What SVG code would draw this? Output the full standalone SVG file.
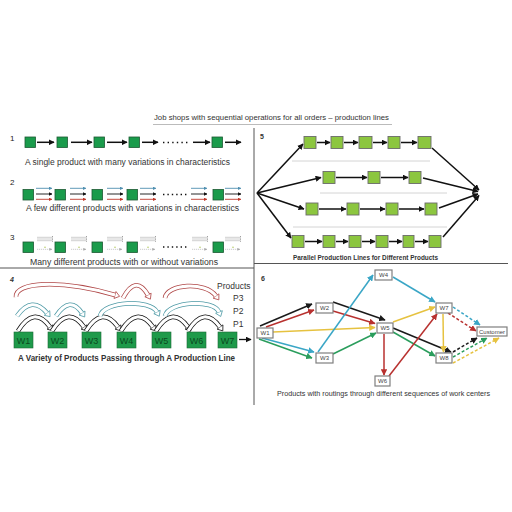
<svg xmlns="http://www.w3.org/2000/svg" xmlns:xlink="http://www.w3.org/1999/xlink" width="512" height="512" viewBox="0 0 512 512">
<style>
text{font-family:"Liberation Sans",Arial,sans-serif;fill:#333}
.cap{font-size:8.5px}
.lbl{font-size:8px;fill:#222}
.sq1{fill:#1a9b4b;stroke:#1d5a33;stroke-width:0.8}
.sq5{fill:#8cc63f;stroke:#6b6b6b;stroke-width:0.9}
.ln{stroke:#111;stroke-width:1.5;fill:none}
.wn{fill:#1e9a4a;stroke:#1d6a36;stroke-width:0.6}
.wt{font-size:9px;fill:#0b4a20;text-anchor:middle}
.box{fill:#fff;stroke:#7f7f7f;stroke-width:1.2}
.bt{font-size:6px;fill:#444;text-anchor:middle}
.div{stroke:#555;stroke-width:1;fill:none}
.sep{stroke:#d4d4d4;stroke-width:1}
.e{fill:none;stroke-width:1.5}
.d{stroke-dasharray:3 2}
.band{fill:none;stroke-width:4.6}
.inner{fill:none;stroke:#fff;stroke-width:3.1}
</style>
<defs>
<marker id="mk" viewBox="0 0 10 10" refX="9" refY="5" markerWidth="6" markerHeight="6" orient="auto" markerUnits="userSpaceOnUse"><path d="M0,0L10,5L0,10z" fill="#111"/></marker>
<marker id="mks" viewBox="0 0 10 10" refX="9" refY="5" markerWidth="3.5" markerHeight="3.5" orient="auto" markerUnits="userSpaceOnUse"><path d="M0,0L10,5L0,10z" fill="#111"/></marker>
<marker id="mkt" viewBox="0 0 10 10" refX="9" refY="5" markerWidth="3.5" markerHeight="3.5" orient="auto" markerUnits="userSpaceOnUse"><path d="M0,0L10,5L0,10z" fill="#4f8fb0"/></marker>
<marker id="mkr" viewBox="0 0 10 10" refX="9" refY="5" markerWidth="3.5" markerHeight="3.5" orient="auto" markerUnits="userSpaceOnUse"><path d="M0,0L10,5L0,10z" fill="#c0392b"/></marker>
<marker id="mkg" viewBox="0 0 10 10" refX="9" refY="5" markerWidth="3" markerHeight="3" orient="auto" markerUnits="userSpaceOnUse"><path d="M0,0L10,5L0,10z" fill="#aaa"/></marker>
<marker id="c-k" viewBox="0 0 10 10" refX="9" refY="5" markerWidth="6.5" markerHeight="6.5" orient="auto" markerUnits="userSpaceOnUse"><path d="M0,0L10,5L0,10z" fill="#1a1a1a"/></marker>
<marker id="c-r" viewBox="0 0 10 10" refX="9" refY="5" markerWidth="6.5" markerHeight="6.5" orient="auto" markerUnits="userSpaceOnUse"><path d="M0,0L10,5L0,10z" fill="#b8312f"/></marker>
<marker id="c-y" viewBox="0 0 10 10" refX="9" refY="5" markerWidth="6.5" markerHeight="6.5" orient="auto" markerUnits="userSpaceOnUse"><path d="M0,0L10,5L0,10z" fill="#e6c240"/></marker>
<marker id="c-t" viewBox="0 0 10 10" refX="9" refY="5" markerWidth="6.5" markerHeight="6.5" orient="auto" markerUnits="userSpaceOnUse"><path d="M0,0L10,5L0,10z" fill="#3aa6c6"/></marker>
<marker id="c-g" viewBox="0 0 10 10" refX="9" refY="5" markerWidth="6.5" markerHeight="6.5" orient="auto" markerUnits="userSpaceOnUse"><path d="M0,0L10,5L0,10z" fill="#2a9d5c"/></marker>
<marker id="bk" viewBox="-1 -6 9 12" refX="0" refY="0" markerWidth="9" markerHeight="12" orient="auto" markerUnits="userSpaceOnUse"><path d="M0,-3.6L4.8,0L0,3.6Z" fill="#fff" stroke="#111" stroke-width="0.75"/></marker>
<marker id="bt" viewBox="-1 -6 9 12" refX="0" refY="0" markerWidth="9" markerHeight="12" orient="auto" markerUnits="userSpaceOnUse"><path d="M0,-3.6L4.8,0L0,3.6Z" fill="#fff" stroke="#4e9aa6" stroke-width="0.75"/></marker>
<marker id="br" viewBox="-1 -6 9 12" refX="0" refY="0" markerWidth="9" markerHeight="12" orient="auto" markerUnits="userSpaceOnUse"><path d="M0,-3.6L4.8,0L0,3.6Z" fill="#fff" stroke="#b04848" stroke-width="0.75"/></marker>
<g id="tri">
<line x1="0" y1="188.3" x2="16" y2="188.3" stroke="#4f8fb0" stroke-width="0.9" marker-end="url(#mkt)"/>
<line x1="0" y1="194" x2="16" y2="194" stroke="#111" stroke-width="0.9" marker-end="url(#mks)"/>
<line x1="0" y1="199.3" x2="16" y2="199.3" stroke="#c0392b" stroke-width="0.9" marker-end="url(#mkr)"/>
</g>
<g id="gry">
<line x1="0" y1="237.3" x2="15" y2="237.3" stroke="#bbb" stroke-width="0.7"/>
<line x1="0" y1="239" x2="15" y2="239" stroke="#bbb" stroke-width="0.7"/>
<line x1="0" y1="240.7" x2="15" y2="240.7" stroke="#bbb" stroke-width="0.7"/>
<line x1="15.5" y1="236" x2="15.5" y2="242" stroke="#888" stroke-width="0.8" stroke-dasharray="1 0.6"/>
<line x1="0" y1="249.3" x2="15" y2="249.3" stroke="#aaa" stroke-width="0.6" stroke-dasharray="1.2 0.8" marker-end="url(#mkg)"/>
<circle cx="8" cy="247.3" r="0.7" fill="#a9c24a"/>
</g>
<g id="arcP1">
<path class="band" stroke="#111" d="M18,331 Q34,305 50,327" marker-end="url(#bk)"/>
<path class="inner" d="M18,331 Q34,305 50,327"/>
</g>
</defs>

<!-- title -->
<text x="154" y="120" font-size="7.5" textLength="235" lengthAdjust="spacingAndGlyphs">Job shops with sequential operations for all orders – production lines</text>
<line x1="153" y1="124.5" x2="392" y2="124.5" stroke="#aaa" stroke-width="0.8"/>

<!-- dividers -->
<g id="dividers">
<line class="div" x1="254" y1="128" x2="254" y2="405"/>
<line class="div" x1="0" y1="268" x2="254" y2="268"/>
<line class="div" x1="254" y1="263.5" x2="508" y2="263.5"/>
</g>

<!-- panel 1 -->
<g id="panel1">
<text class="lbl" x="10" y="141">1</text>
<rect class="sq1" x="25" y="137" width="10.5" height="10.5"/>
<rect class="sq1" x="57" y="137" width="10.5" height="10.5"/>
<rect class="sq1" x="94" y="137" width="10.5" height="10.5"/>
<rect class="sq1" x="129" y="137" width="10.5" height="10.5"/>
<rect class="sq1" x="212" y="137" width="10.5" height="10.5"/>
<g class="ln">
<line x1="37" y1="142.3" x2="54" y2="142.3" marker-end="url(#mk)"/>
<line x1="71" y1="142.3" x2="92" y2="142.3" marker-end="url(#mk)"/>
<line x1="107" y1="142.3" x2="127" y2="142.3" marker-end="url(#mk)"/>
<line x1="142" y1="142.3" x2="158" y2="142.3" marker-end="url(#mk)"/>
<line x1="193" y1="142.3" x2="210" y2="142.3" marker-end="url(#mk)"/>
<line x1="225" y1="142.3" x2="241" y2="142.3" marker-end="url(#mk)"/>
</g>
<line x1="163" y1="142.5" x2="190" y2="142.5" stroke="#111" stroke-width="1.4" stroke-dasharray="1.4 3.2"/>
<text class="cap" x="25" y="165" textLength="205" lengthAdjust="spacingAndGlyphs">A single product with many variations in characteristics</text>
</g>

<!-- panel 2 -->
<g id="panel2">
<text class="lbl" x="10" y="185">2</text>
<rect class="sq1" x="23" y="189.5" width="10.5" height="10.5"/>
<rect class="sq1" x="55" y="189.5" width="10.5" height="10.5"/>
<rect class="sq1" x="92" y="189.5" width="10.5" height="10.5"/>
<rect class="sq1" x="127" y="189.5" width="10.5" height="10.5"/>
<rect class="sq1" x="213" y="189.5" width="10.5" height="10.5"/>
<use xlink:href="#tri" x="36"/>
<use xlink:href="#tri" x="70"/>
<use xlink:href="#tri" x="107"/>
<use xlink:href="#tri" x="140"/>
<use xlink:href="#tri" x="191"/>
<use xlink:href="#tri" x="225"/>
<line x1="163" y1="194.5" x2="188" y2="194.5" stroke="#111" stroke-width="1.4" stroke-dasharray="1.4 3"/>
<text class="cap" x="26" y="211" textLength="213" lengthAdjust="spacingAndGlyphs">A few different products with variations in characteristics</text>
</g>

<!-- panel 3 -->
<g id="panel3">
<text class="lbl" x="10" y="240">3</text>
<rect class="sq1" x="23" y="242" width="10.5" height="10.5"/>
<rect class="sq1" x="55" y="242" width="10.5" height="10.5"/>
<rect class="sq1" x="92" y="242" width="10.5" height="10.5"/>
<rect class="sq1" x="127" y="242" width="10.5" height="10.5"/>
<rect class="sq1" x="213" y="242" width="10.5" height="10.5"/>
<use xlink:href="#gry" x="37"/>
<use xlink:href="#gry" x="71"/>
<use xlink:href="#gry" x="107"/>
<use xlink:href="#gry" x="140"/>
<use xlink:href="#gry" x="192"/>
<use xlink:href="#gry" x="225"/>
<line x1="163" y1="247" x2="188" y2="247" stroke="#111" stroke-width="1.4" stroke-dasharray="1.4 3"/>
<text class="cap" x="30" y="265" textLength="188" lengthAdjust="spacingAndGlyphs">Many different products with or without variations</text>
</g>

<!-- panel 4 -->
<g id="panel4">
<text x="10" y="282" font-size="7" font-style="italic" font-weight="bold" fill="#222">4</text>
<g id="p4-arcs">
<use xlink:href="#arcP1" x="0"/>
<use xlink:href="#arcP1" x="34"/>
<use xlink:href="#arcP1" x="68"/>
<use xlink:href="#arcP1" x="103"/>
<use xlink:href="#arcP1" x="138"/>
<use xlink:href="#arcP1" x="170"/>
<g>
<path class="band" stroke="#4e9aa6" d="M17,316 Q32,295 47,313" marker-end="url(#bt)"/>
<path class="inner" d="M17,316 Q32,295 47,313"/>
<path class="band" stroke="#4e9aa6" d="M56,316 Q70,295 82,313" marker-end="url(#bt)"/>
<path class="inner" d="M56,316 Q70,295 82,313"/>
<path class="band" stroke="#4e9aa6" d="M100,316 C104,301 150,299 157,312" marker-end="url(#bt)"/>
<path class="inner" d="M100,316 C104,301 150,299 157,312"/>
<path class="band" stroke="#4e9aa6" d="M165,316 C169,301 214,299 219,312" marker-end="url(#bt)"/>
<path class="inner" d="M165,316 C169,301 214,299 219,312"/>
</g>
<g>
<path class="band" stroke="#b04848" d="M16,297 C15,282 60,279 115,295" marker-end="url(#br)"/>
<path class="inner" d="M16,297 C15,282 60,279 115,295"/>
<path class="band" stroke="#b04848" d="M123,298 Q136,274 148,295" marker-end="url(#br)"/>
<path class="inner" d="M123,298 Q136,274 148,295"/>
<path class="band" stroke="#b04848" d="M165,298 C167,284 205,281 216,296" marker-end="url(#br)"/>
<path class="inner" d="M165,298 C167,284 205,281 216,296"/>
</g>
<line x1="239" y1="339.5" x2="251" y2="339.5" stroke="#111" stroke-width="1.3" marker-end="url(#mk)"/>
</g>
<g id="w1"><rect class="wn" x="14" y="332" width="19" height="16"/><text class="wt" x="23.5" y="343.5">W1</text></g>
<g id="w2"><rect class="wn" x="48" y="332" width="19" height="16"/><text class="wt" x="57.5" y="343.5">W2</text></g>
<g id="w3"><rect class="wn" x="82" y="332" width="19" height="16"/><text class="wt" x="91.5" y="343.5">W3</text></g>
<g id="w4"><rect class="wn" x="117" y="332" width="19" height="16"/><text class="wt" x="126.5" y="343.5">W4</text></g>
<g id="w5"><rect class="wn" x="152" y="332" width="19" height="16"/><text class="wt" x="161.5" y="343.5">W5</text></g>
<g id="w6"><rect class="wn" x="187" y="332" width="19" height="16"/><text class="wt" x="196.5" y="343.5">W6</text></g>
<g id="w7"><rect class="wn" x="218" y="332" width="19" height="16"/><text class="wt" x="227.5" y="343.5">W7</text></g>
<text x="217" y="289" font-size="8.5" fill="#444">Products</text>
<text x="233" y="301" font-size="8.5" fill="#444">P3</text>
<text x="233" y="314" font-size="8.5" fill="#444">P2</text>
<text x="233" y="327" font-size="8.5" fill="#444">P1</text>
<text x="18" y="361" font-size="8.5" font-weight="bold" fill="#111" textLength="217" lengthAdjust="spacingAndGlyphs">A Variety of Products Passing through A Production Line</text>
</g>

<!-- panel 5 -->
<g id="panel5">
<text x="260" y="139" font-size="7" font-weight="bold" fill="#222">5</text>
<g id="p5-seps">
<line class="sep" x1="292" y1="161" x2="430" y2="161"/>
<line class="sep" x1="320" y1="193" x2="447" y2="193"/>
<line class="sep" x1="293" y1="227" x2="447" y2="227"/>
</g>
<g id="p5-connectors" class="ln" stroke-width="1.2">
<line x1="257" y1="193" x2="303" y2="144" marker-end="url(#mk)"/>
<line x1="257" y1="193" x2="321" y2="177.5" marker-end="url(#mk)"/>
<line x1="257" y1="193" x2="304" y2="209" marker-end="url(#mk)"/>
<line x1="257" y1="193" x2="291" y2="238" marker-end="url(#mk)"/>
<line x1="432" y1="148" x2="479" y2="190" marker-end="url(#mk)"/>
<line x1="423" y1="178" x2="478" y2="191.5" marker-end="url(#mk)"/>
<line x1="439" y1="208" x2="478" y2="194" marker-end="url(#mk)"/>
<line x1="443" y1="237" x2="479" y2="195.5" marker-end="url(#mk)"/>
<line x1="317" y1="142.5" x2="330" y2="142.5" marker-end="url(#mk)"/>
<line x1="344" y1="142.5" x2="358" y2="142.5" marker-end="url(#mk)"/>
<line x1="373" y1="142.5" x2="387" y2="142.5" marker-end="url(#mk)"/>
<line x1="401" y1="142.5" x2="417" y2="142.5" marker-end="url(#mk)"/>
<line x1="336" y1="177.5" x2="367" y2="177.5" marker-end="url(#mk)"/>
<line x1="381" y1="177.5" x2="408" y2="177.5" marker-end="url(#mk)"/>
<line x1="319" y1="209" x2="346" y2="209" marker-end="url(#mk)"/>
<line x1="360" y1="209" x2="385" y2="209" marker-end="url(#mk)"/>
<line x1="399" y1="209" x2="424" y2="209" marker-end="url(#mk)"/>
<line x1="305" y1="241.5" x2="322" y2="241.5" marker-end="url(#mk)"/>
<line x1="336" y1="241.5" x2="348" y2="241.5" marker-end="url(#mk)"/>
<line x1="362" y1="241.5" x2="375" y2="241.5" marker-end="url(#mk)"/>
<line x1="389" y1="241.5" x2="402" y2="241.5" marker-end="url(#mk)"/>
<line x1="415" y1="241.5" x2="428" y2="241.5" marker-end="url(#mk)"/>
</g>
<g id="p5-nodes">
<rect class="sq5" x="304" y="136.5" width="12" height="12"/>
<rect class="sq5" x="331" y="136.5" width="12" height="12"/>
<rect class="sq5" x="359" y="136.5" width="13" height="12"/>
<rect class="sq5" x="388" y="136.5" width="12" height="12"/>
<rect class="sq5" x="418" y="136.5" width="13" height="12"/>
<rect class="sq5" x="323" y="171.5" width="12" height="12"/>
<rect class="sq5" x="368" y="171.5" width="12" height="12"/>
<rect class="sq5" x="409" y="171.5" width="12" height="12"/>
<rect class="sq5" x="306" y="203" width="12" height="12"/>
<rect class="sq5" x="347" y="203" width="12" height="12"/>
<rect class="sq5" x="386" y="203" width="12" height="12"/>
<rect class="sq5" x="425" y="203" width="12" height="12"/>
<rect class="sq5" x="292" y="235.5" width="12" height="12"/>
<rect class="sq5" x="323" y="235.5" width="12" height="12"/>
<rect class="sq5" x="349" y="235.5" width="12" height="12"/>
<rect class="sq5" x="376" y="235.5" width="12" height="12"/>
<rect class="sq5" x="403" y="235.5" width="11" height="12"/>
<rect class="sq5" x="429" y="235.5" width="12" height="12"/>
</g>
<text x="293" y="259.5" font-size="6.5" font-weight="bold" fill="#222" textLength="145" lengthAdjust="spacingAndGlyphs">Parallel Production Lines for Different Products</text>
</g>

<!-- panel 6 -->
<g id="panel6">
<text x="261" y="281" font-size="7" font-weight="bold" fill="#222">6</text>
<g id="p6-connectors">
<line class="e" stroke="#1a1a1a" x1="260" y1="326" x2="312" y2="304" marker-end="url(#c-k)"/>
<line class="e" stroke="#b8312f" x1="266" y1="327" x2="314" y2="310" marker-end="url(#c-r)"/>
<line class="e" stroke="#e6c240" x1="273" y1="332" x2="375" y2="327.5" marker-end="url(#c-y)"/>
<line class="e" stroke="#3aa6c6" x1="262" y1="338" x2="314" y2="352" marker-end="url(#c-t)"/>
<line class="e" stroke="#2a9d5c" x1="259" y1="339" x2="312" y2="358" marker-end="url(#c-g)"/>
<line class="e" stroke="#1a1a1a" x1="333" y1="302" x2="385" y2="320" marker-end="url(#c-k)"/>
<line class="e" stroke="#b8312f" x1="333" y1="311" x2="375" y2="323.5" marker-end="url(#c-r)"/>
<line class="e" stroke="#3aa6c6" x1="318" y1="352" x2="373" y2="275" marker-end="url(#c-t)"/>
<line class="e" stroke="#2a9d5c" x1="333" y1="354" x2="376" y2="333" marker-end="url(#c-g)"/>
<line class="e" stroke="#b8312f" x1="384" y1="334" x2="384" y2="375" marker-end="url(#c-r)"/>
<line class="e" stroke="#3aa6c6" x1="393" y1="277" x2="435" y2="302" marker-end="url(#c-t)"/>
<line class="e" stroke="#e6c240" x1="393" y1="322" x2="435" y2="307" marker-end="url(#c-y)"/>
<line class="e" stroke="#1a1a1a" x1="393" y1="328" x2="451" y2="352" marker-end="url(#c-k)"/>
<line class="e" stroke="#2a9d5c" x1="393" y1="332" x2="435" y2="356" marker-end="url(#c-g)"/>
<line class="e" stroke="#b8312f" x1="389" y1="376" x2="437" y2="314" marker-end="url(#c-r)"/>
<line class="e" stroke="#e6c240" x1="443" y1="314" x2="443.5" y2="352" marker-end="url(#c-y)"/>
<line class="e d" stroke="#3aa6c6" x1="453" y1="307" x2="480" y2="325" marker-end="url(#c-t)"/>
<line class="e d" stroke="#b8312f" x1="448" y1="313" x2="476" y2="331" marker-end="url(#c-r)"/>
<line class="e d" stroke="#1a1a1a" x1="453" y1="352" x2="477" y2="338" marker-end="url(#c-k)"/>
<line class="e d" stroke="#2a9d5c" x1="453" y1="357" x2="487" y2="338" marker-end="url(#c-g)"/>
<line class="e d" stroke="#e6c240" x1="453" y1="363" x2="499" y2="338" marker-end="url(#c-y)"/>
</g>
<g id="n-w1"><rect class="box" x="257" y="328" width="16" height="10"/><text class="bt" x="265" y="335.2">W1</text></g>
<g id="n-w2"><rect class="box" x="316" y="303" width="17" height="10"/><text class="bt" x="324.5" y="310.2">W2</text></g>
<g id="n-w3"><rect class="box" x="316" y="353" width="17" height="10"/><text class="bt" x="324.5" y="360.2">W3</text></g>
<g id="n-w4"><rect class="box" x="375" y="270" width="17" height="10"/><text class="bt" x="383.5" y="277.2">W4</text></g>
<g id="n-w5"><rect class="box" x="377" y="323" width="16" height="10"/><text class="bt" x="385" y="330.2">W5</text></g>
<g id="n-w6"><rect class="box" x="375" y="376" width="15" height="10"/><text class="bt" x="382.5" y="383.2">W6</text></g>
<g id="n-w7"><rect class="box" x="436" y="303" width="16" height="10"/><text class="bt" x="444" y="310.2">W7</text></g>
<g id="n-w8"><rect class="box" x="436" y="353" width="16" height="10"/><text class="bt" x="444" y="360.2">W8</text></g>
<g id="n-customer"><rect class="box" x="477" y="327" width="30" height="9"/><text class="bt" x="492" y="333.6" font-size="5.5">Customer</text></g>
<text x="277" y="395.5" font-size="7" fill="#333" textLength="213" lengthAdjust="spacingAndGlyphs">Products with routings through different sequences of work centers</text>
</g>
</svg>
